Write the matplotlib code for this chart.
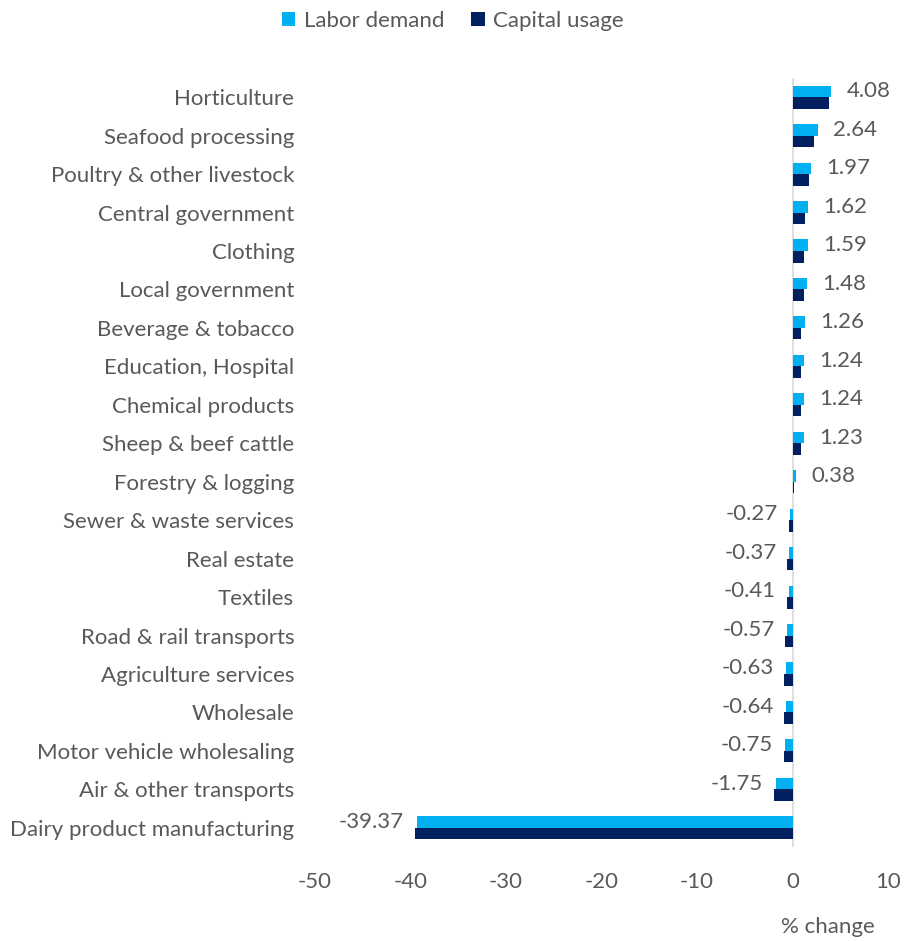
import matplotlib
matplotlib.use("Agg")
import matplotlib.pyplot as plt
import numpy as np

plt.rcParams['font.family'] = ['Lato', 'DejaVu Sans']
plt.rcParams['axes.unicode_minus'] = False

sectors = ['Horticulture', 'Seafood processing', 'Poultry & other livestock',
           'Central government', 'Clothing', 'Local government',
           'Beverage & tobacco', 'Education, Hospital', 'Chemical products',
           'Sheep & beef cattle', 'Forestry & logging', 'Sewer & waste services',
           'Real estate', 'Textiles', 'Road & rail transports',
           'Agriculture services', 'Wholesale', 'Motor vehicle wholesaling',
           'Air & other transports', 'Dairy product manufacturing']
labor_demand = [4.08, 2.64, 1.97, 1.62, 1.59, 1.48, 1.26, 1.24, 1.24, 1.23,
                0.38, -0.27, -0.37, -0.41, -0.57, -0.63, -0.64, -0.75, -1.75, -39.37]
capital_usage = [3.8, 2.2, 1.7, 1.35, 1.2, 1.2, 0.85, 0.85, 0.85, 0.85,
                 0.12, -0.4, -0.55, -0.55, -0.75, -0.9, -0.9, -0.9, -1.95, -39.5]

LIGHT = '#00B0F0'
DARK = '#002060'
GREY = '#595959'
FS = 16

fig = plt.figure(figsize=(9.06, 9.41), dpi=100)
ax = fig.add_axes([315 / 906, 1 - 847 / 941, 573 / 906, (847 - 78) / 941])

y = np.arange(len(sectors))
h = 0.3
ax.barh(y - h / 2, labor_demand, height=h, color=LIGHT, label='Labor demand')
ax.barh(y + h / 2, capital_usage, height=h, color=DARK, label='Capital usage')

# value labels for labor demand
for yi, v in zip(y, labor_demand):
    off = 11 if v >= 0 else -9
    ax.annotate(f'{v:.2f}', (v, yi - h / 2), xytext=(off, 0),
                textcoords='offset points', va='center',
                ha='left' if v >= 0 else 'right', fontsize=FS, color=GREY)

ax.set_xlim(-50, 10)
ax.set_ylim(len(sectors) - 0.5, -0.5)
ax.set_xticks(np.arange(-50, 11, 10))
ax.set_yticks(y)
ax.set_yticklabels(sectors)
ax.tick_params(axis='both', length=0, labelsize=FS, colors=GREY)
ax.tick_params(axis='y', pad=15)
ax.tick_params(axis='x', pad=18)
for s in ax.spines.values():
    s.set_visible(False)
ax.axvline(0, color='#D9D9D9', lw=1.2, zorder=0)

fig.text(875 / 906, 1 - 927 / 941, '% change', ha='right', va='center',
         fontsize=FS, color=GREY)
fig.legend(loc='upper center', bbox_to_anchor=(0.5, 1.01), ncol=2, frameon=False,
           fontsize=FS, labelcolor=GREY, handlelength=0.6, handleheight=0.6,
           handletextpad=0.4, columnspacing=1.2)

fig.savefig('out.png', dpi=100)
